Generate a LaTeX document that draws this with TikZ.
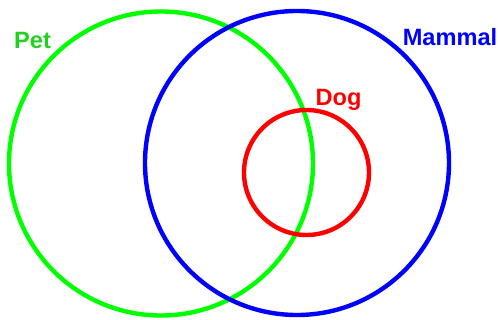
\documentclass[tikz,border=0pt]{standalone}
\usepackage{fontspec}
\setmainfont{Liberation Sans}
\definecolor{petgreen}{RGB}{0,255,0}
\definecolor{pettext}{RGB}{30,210,30}
\definecolor{mamblue}{RGB}{0,0,255}
\definecolor{dogred}{RGB}{255,0,0}
\begin{document}
\begin{tikzpicture}[x=1pt,y=-1pt,
  setcircle/.style={draw=#1,line width=4.4pt},
  setlabel/.style={text=#1,font=\bfseries\fontsize{23.6}{24}\selectfont,anchor=base,inner sep=0pt}]
\useasboundingbox (0,0) rectangle (498,320);
\draw[setcircle=petgreen] (161,163.5) circle[radius=152];
\draw[setcircle=mamblue] (297,163) circle[radius=152];
\draw[setcircle=dogred] (306.5,172.5) circle[radius=62.5];
\node[setlabel=pettext] (pet) at (32.5,48.5) {Pet};
\node[setlabel=mamblue] (mammal) at (450,45.5) {Mammal};
\node[setlabel=dogred] (dog) at (338.5,105.5) {Dog};
\end{tikzpicture}
\end{document}
